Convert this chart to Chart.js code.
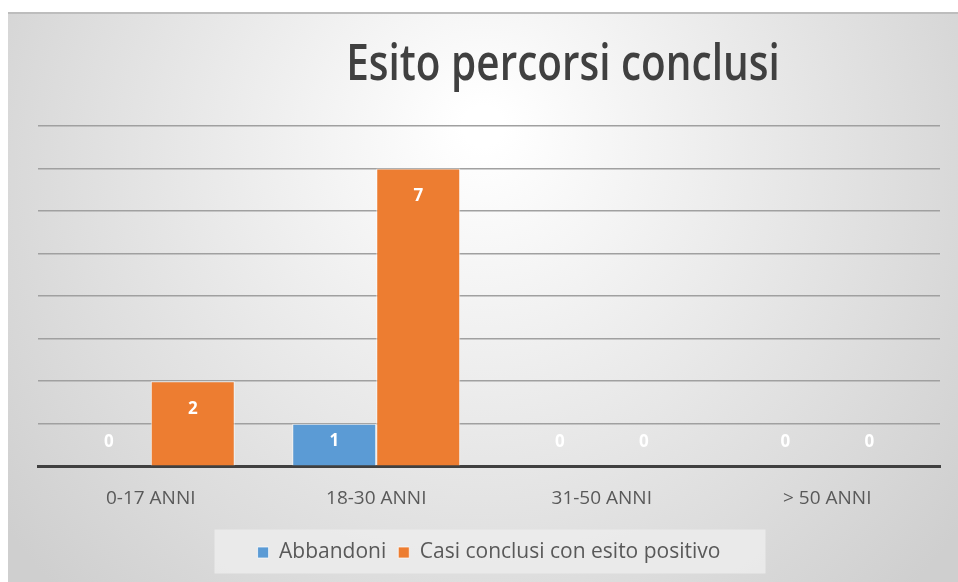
<!DOCTYPE html>
<html>
<head>
<meta charset="utf-8">
<script src="https://cdn.jsdelivr.net/npm/chart.js@4.4.1/dist/chart.umd.min.js"></script>
<style>
  html, body { margin: 0; padding: 0; background: #fff; }
  #wrap { position: absolute; left: 8px; top: 12px; width: 950px; height: 570px; }
</style>
</head>
<body>
<div id="wrap"><canvas id="chart"></canvas></div>
<script>
const CATEGORIES = ['0-17 ANNI', '18-30 ANNI', '31-50 ANNI', '> 50 ANNI'];
const ABBANDONI = [0, 1, 0, 0];
const CASI_POSITIVI = [2, 7, 0, 0];
const SERIES_NAMES = ['Abbandoni', 'Casi conclusi con esito positivo'];
const TITLE_TEXT = 'Esito percorsi conclusi';

const FONT = "'Open Sans', 'Noto Sans', sans-serif";

// sfondo grigio con centro chiaro
const bgPlugin = {
  id: 'bg',
  beforeDraw(chart) {
    const { ctx, width, height } = chart;
    const g = ctx.createRadialGradient(width * 0.5, height * 0.2, 20, width * 0.5, height * 0.3, width * 0.62);
    g.addColorStop(0, '#ffffff');
    g.addColorStop(1, '#cfcfcf');
    ctx.save();
    ctx.fillStyle = g;
    ctx.fillRect(0, 0, width, height);
    ctx.fillStyle = '#bdbdbd';
    ctx.fillRect(0, 0, width, 2);
    // sfondo legenda
    const lg = chart.legend;
    if (lg) {
      const mid = lg.top + lg.height / 2;
      ctx.fillStyle = 'rgba(236,236,236,0.85)';
      ctx.fillRect(lg.left + (lg.width - 551) / 2 + 1, mid - 22, 551, 44);
    }
    ctx.restore();
  }
};

// titolo spostato a destra come nell'originale
const titlePlugin = {
  id: 'titolo',
  afterDraw(chart) {
    const { ctx, chartArea } = chart;
    ctx.save();
    ctx.font = `600 50px ${FONT}`;
    ctx.fillStyle = '#404040';
    ctx.textAlign = 'center';
    ctx.textBaseline = 'alphabetic';
    ctx.translate(chartArea.left + chartArea.width * 0.582, 68);
    ctx.scale(0.81, 1);
    ctx.fillText(TITLE_TEXT, 0, 0);
    ctx.restore();
  }
};

// etichette dati bianche dentro le barre
const labelsPlugin = {
  id: 'etichette',
  afterDatasetsDraw(chart) {
    const { ctx } = chart;
    ctx.save();
    ctx.font = `bold 17px ${FONT}`;
    ctx.fillStyle = '#ffffff';
    ctx.textAlign = 'center';
    ctx.textBaseline = 'middle';
    chart.data.datasets.forEach((ds, i) => {
      chart.getDatasetMeta(i).data.forEach((bar, j) => {
        const y = Math.min(bar.y + 28, bar.base - 24);
        ctx.fillText(String(ds.data[j]), bar.x, y);
      });
    });
    ctx.restore();
  }
};

new Chart(document.getElementById('chart'), {
  type: 'bar',
  data: {
    labels: CATEGORIES,
    datasets: [
      { label: SERIES_NAMES[0], data: ABBANDONI, backgroundColor: '#5b9bd5' },
      { label: SERIES_NAMES[1], data: CASI_POSITIVI, backgroundColor: '#ed7d31' }
    ]
  },
  options: {
    responsive: true,
    maintainAspectRatio: false,
    animation: false,
    datasets: {
      bar: {
        categoryPercentage: 0.745,
        barPercentage: 1,
        borderColor: 'rgba(255,255,255,0.7)',
        borderWidth: 1
      }
    },
    layout: { padding: { left: 30, right: 18, top: 114, bottom: 9 } },
    plugins: {
      title: { display: false },
      tooltip: { enabled: false },
      legend: {
        position: 'bottom',
        labels: {
          font: { family: FONT, size: 21 },
          color: '#595959',
          boxWidth: 11,
          boxHeight: 11,
          padding: 12
        }
      }
    },
    scales: {
      x: {
        grid: { display: false },
        border: { display: true, color: '#404040', width: 3 },
        ticks: { font: { family: FONT, size: 19 }, color: '#595959', padding: 13 },
        afterFit(scale) { scale.height += 7; }
      },
      y: {
        min: 0,
        max: 8,
        ticks: { display: false, stepSize: 1 },
        grid: { color: '#a0a0a0', lineWidth: 1.5, drawTicks: false },
        border: { display: false }
      }
    }
  },
  plugins: [bgPlugin, titlePlugin, labelsPlugin]
});
</script>
</body>
</html>
